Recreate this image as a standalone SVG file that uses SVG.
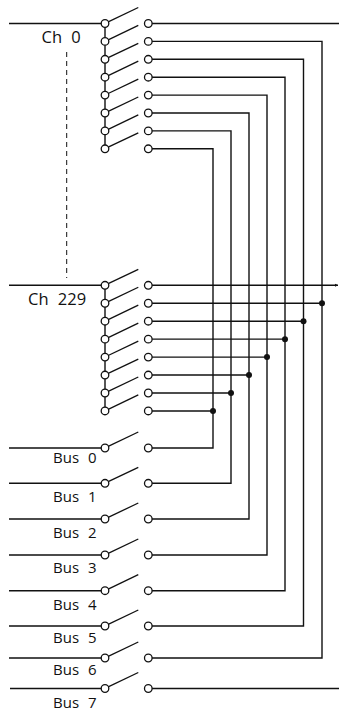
<svg xmlns="http://www.w3.org/2000/svg" xmlns:xlink="http://www.w3.org/1999/xlink" width="339" height="711" viewBox="0 0 339 711">
<style>
.w{fill:none;stroke:#111;stroke-width:1.4}
.dash{fill:none;stroke:#111;stroke-width:1;stroke-dasharray:5 4}
.dot{fill:#111;stroke:none}
.lbl{font-family:"Open Sans","Noto Sans","DejaVu Sans",sans-serif;fill:#111;word-spacing:5px}
.ch{font-size:16.5px}
.bus{font-size:15px}
</style>
<defs>
<g id="sw">
<line x1="3.2" y1="-1.6" x2="33.3" y2="-16" stroke="#111" stroke-width="1.3"/>
<circle cx="0" cy="0" r="3.8" fill="#fff" stroke="#111" stroke-width="1.3"/>
<circle cx="43.3" cy="0" r="3.8" fill="#fff" stroke="#111" stroke-width="1.3"/>
</g>
<marker id="arr" markerUnits="userSpaceOnUse" markerWidth="4" markerHeight="4" refX="3" refY="2" orient="auto">
<path d="M0,0.5 L3,2 L0,3.5 Z" fill="#111"/>
</marker>
</defs>

<g id="connectors">
<!-- Ch 0 -->
<path class="w" d="M9 23.5 H105 M105 23.5 V148.8"/>
<path class="w" d="M148.3 23.5 H339"/>
<path class="w" d="M148.3 41.4 H322 V658 H148.3"/>
<path class="w" d="M148.3 59.3 H303.5 V626 H148.3"/>
<path class="w" d="M148.3 77.2 H285 V590.7 H148.3"/>
<path class="w" d="M148.3 95.1 H267 V555 H148.3"/>
<path class="w" d="M148.3 113 H249 V519 H148.3"/>
<path class="w" d="M148.3 130.9 H231 V483.3 H148.3"/>
<path class="w" d="M148.3 148.8 H213 V448 H148.3"/>
<path class="dash" d="M66.7 52 V278"/>
<!-- Ch 229 -->
<path class="w" d="M9 285.3 H105 M105 285.3 V411"/>
<path class="w" d="M148.3 285.3 H338" marker-end="url(#arr)"/>
<path class="w" d="M148.3 303.25 H322"/>
<path class="w" d="M148.3 321.2 H303.5"/>
<path class="w" d="M148.3 339.15 H285"/>
<path class="w" d="M148.3 357.1 H267"/>
<path class="w" d="M148.3 375.05 H249"/>
<path class="w" d="M148.3 393 H231"/>
<path class="w" d="M148.3 410.95 H213"/>
<circle class="dot" cx="322" cy="303.25" r="3"/>
<circle class="dot" cx="303.5" cy="321.2" r="3"/>
<circle class="dot" cx="285" cy="339.15" r="3"/>
<circle class="dot" cx="267" cy="357.1" r="3"/>
<circle class="dot" cx="249" cy="375.05" r="3"/>
<circle class="dot" cx="231" cy="393" r="3"/>
<circle class="dot" cx="213" cy="410.95" r="3"/>
<!-- Bus inputs -->
<path class="w" d="M9 448 H105 M9 483.3 H105 M9 519 H105 M9 555 H105 M9 590.7 H105 M9 626 H105 M9 658 H105 M10 688.5 H105"/>
<path class="w" d="M148.3 688.5 H339"/>
</g>

<g id="ch0">
<use xlink:href="#sw" x="105" y="23.5"/>
<use xlink:href="#sw" x="105" y="41.4"/>
<use xlink:href="#sw" x="105" y="59.3"/>
<use xlink:href="#sw" x="105" y="77.2"/>
<use xlink:href="#sw" x="105" y="95.1"/>
<use xlink:href="#sw" x="105" y="113"/>
<use xlink:href="#sw" x="105" y="130.9"/>
<use xlink:href="#sw" x="105" y="148.8"/>
<text class="lbl ch" x="41.5" y="43.3">Ch 0</text>
</g>

<g id="ch229">
<use xlink:href="#sw" x="105" y="285.3"/>
<use xlink:href="#sw" x="105" y="303.25"/>
<use xlink:href="#sw" x="105" y="321.2"/>
<use xlink:href="#sw" x="105" y="339.15"/>
<use xlink:href="#sw" x="105" y="357.1"/>
<use xlink:href="#sw" x="105" y="375.05"/>
<use xlink:href="#sw" x="105" y="393"/>
<use xlink:href="#sw" x="105" y="410.95"/>
<text class="lbl ch" x="28" y="305">Ch 229</text>
</g>

<g id="bus0"><use xlink:href="#sw" x="105" y="448"/><text class="lbl bus" x="53" y="463">Bus 0</text></g>
<g id="bus1"><use xlink:href="#sw" x="105" y="483.3"/><text class="lbl bus" x="53" y="501.5">Bus 1</text></g>
<g id="bus2"><use xlink:href="#sw" x="105" y="519"/><text class="lbl bus" x="53" y="538">Bus 2</text></g>
<g id="bus3"><use xlink:href="#sw" x="105" y="555"/><text class="lbl bus" x="53" y="572.5">Bus 3</text></g>
<g id="bus4"><use xlink:href="#sw" x="105" y="590.7"/><text class="lbl bus" x="53" y="610">Bus 4</text></g>
<g id="bus5"><use xlink:href="#sw" x="105" y="626"/><text class="lbl bus" x="53" y="643">Bus 5</text></g>
<g id="bus6"><use xlink:href="#sw" x="105" y="658"/><text class="lbl bus" x="53" y="675">Bus 6</text></g>
<g id="bus7"><use xlink:href="#sw" x="105" y="688.5"/><text class="lbl bus" x="53" y="708">Bus 7</text></g>
</svg>
